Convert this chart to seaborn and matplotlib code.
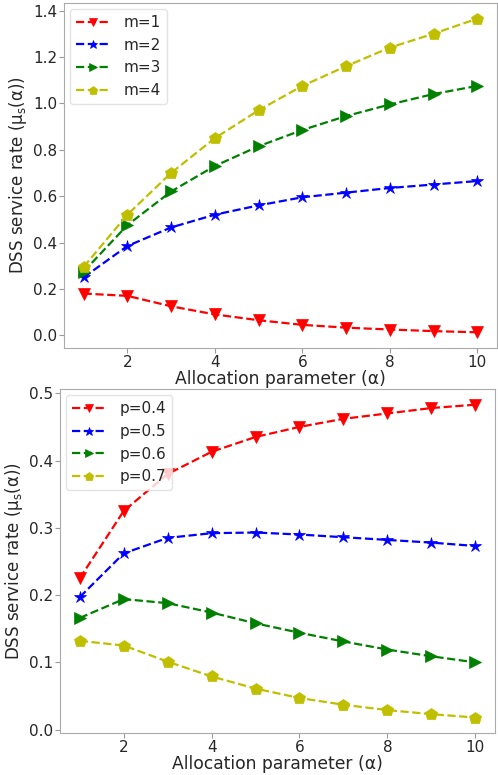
import matplotlib
matplotlib.use('Agg')  # No display available
import matplotlib.pyplot as plt  # Plotting
import seaborn as sns  # Styled line plots

# Chart data
alpha = [1, 2, 3, 4, 5, 6, 7, 8, 9, 10]  # Allocation parameter values

m1 = [0.180, 0.170, 0.125, 0.090, 0.065, 0.045, 0.033, 0.025, 0.018, 0.013]  # m=1
m2 = [0.250, 0.385, 0.465, 0.520, 0.560, 0.595, 0.615, 0.635, 0.650, 0.665]  # m=2
m3 = [0.275, 0.475, 0.620, 0.730, 0.815, 0.885, 0.945, 0.995, 1.040, 1.075]  # m=3
m4 = [0.295, 0.520, 0.700, 0.850, 0.970, 1.075, 1.160, 1.240, 1.300, 1.365]  # m=4
m_labels = ['m=1', 'm=2', 'm=3', 'm=4']  # Legend labels for the top panel

p4 = [0.225, 0.325, 0.380, 0.413, 0.435, 0.450, 0.462, 0.470, 0.478, 0.483]  # p=0.4
p5 = [0.197, 0.262, 0.285, 0.292, 0.293, 0.290, 0.286, 0.282, 0.278, 0.273]  # p=0.5
p6 = [0.166, 0.194, 0.188, 0.174, 0.158, 0.144, 0.131, 0.119, 0.109, 0.100]  # p=0.6
p7 = [0.132, 0.125, 0.101, 0.079, 0.061, 0.047, 0.037, 0.029, 0.023, 0.018]  # p=0.7
p_labels = ['p=0.4', 'p=0.5', 'p=0.6', 'p=0.7']  # Legend labels for the bottom panel

colors = ['r', 'b', 'g', 'y']  # Series colours
markers = ['v', '*', '>', 'p']  # Series markers

# Style
sns.set_style('white')  # Plain background, no grid
plt.rcParams['font.family'] = ['DejaVu Sans']  # Font family
plt.rcParams['mathtext.default'] = 'regular'  # Upright subscripts

fig = plt.figure(figsize=(4.98, 7.75), dpi=100)  # Figure size in pixels 498x775
ax_top = fig.add_axes([0.1285, 0.5510, 0.8695, 0.4452])  # Top panel
ax_bot = fig.add_axes([0.1205, 0.0540, 0.8735, 0.4440])  # Bottom panel


def draw_panel(ax, series, labels):
    # Draw each series as a dashed line with markers
    for vals, lab, col, mk in zip(series, labels, colors, markers):
        sns.lineplot(x=alpha, y=vals, ax=ax, label=lab, color=col, marker=mk,
                     linestyle='--', linewidth=1.6, markersize=9,
                     markeredgecolor=col, markeredgewidth=0.5)
    ax.set_xlabel('Allocation parameter (α)', fontsize=12.3, labelpad=0)  # X label
    ax.set_ylabel('DSS service rate (μ$_{s}$(α))', fontsize=12, labelpad=3)  # Y label
    ax.set_xticks([2, 4, 6, 8, 10])  # X ticks
    ax.tick_params(labelsize=11, length=3.5, width=0.8, color='#999999',
                   left=True, bottom=True, pad=1.5)  # Tick styling
    for sp in ax.spines.values():
        sp.set_color('#aaaaaa')  # Grey frame
    leg = ax.legend(loc='upper left', fontsize=11, handlelength=2.2, markerscale=0.7,
                    borderpad=0.4, labelspacing=0.5, handletextpad=0.9,
                    borderaxespad=0.4)  # Legend
    leg.get_frame().set_edgecolor('#dddddd')  # Light legend frame


draw_panel(ax_top, [m1, m2, m3, m4], m_labels)  # Top panel
ax_top.set_yticks([0.0, 0.2, 0.4, 0.6, 0.8, 1.0, 1.2, 1.4])  # Top y ticks

draw_panel(ax_bot, [p4, p5, p6, p7], p_labels)  # Bottom panel
ax_bot.set_yticks([0.0, 0.1, 0.2, 0.3, 0.4, 0.5])  # Bottom y ticks

fig.savefig('out.png', dpi=100)  # Save the figure
